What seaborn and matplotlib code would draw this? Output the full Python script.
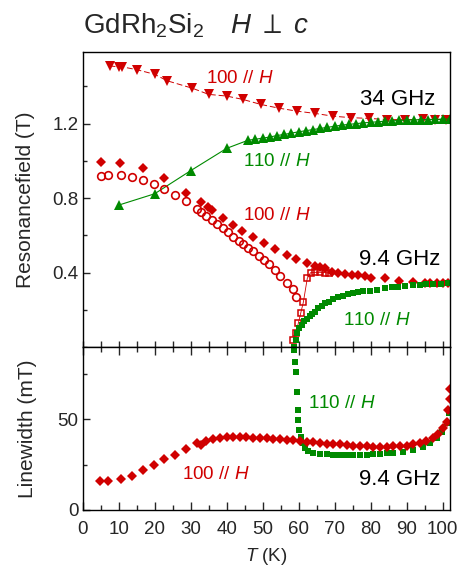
import matplotlib
matplotlib.use("Agg")
import matplotlib.pyplot as plt
import seaborn as sns
from matplotlib.ticker import MultipleLocator

# ---------------- data ----------------
# 34 GHz, 100 // H (down triangles, dashed)
t34_100 = [7.5, 10, 11, 15, 20, 23.5, 30.5, 35, 40, 44.5, 49.5, 54.5, 59.5, 64.5,
           69.5, 74.5, 79.5, 84.5, 89.5, 94.5, 98, 101]
b34_100 = [1.51, 1.505, 1.505, 1.49, 1.465, 1.43, 1.39, 1.357, 1.348, 1.33, 1.303,
           1.283, 1.267, 1.255, 1.24, 1.232, 1.228, 1.222, 1.221, 1.223, 1.222, 1.222]

# 34 GHz, 110 // H (up triangles, solid)
t34_110 = [10, 20, 30, 40, 46, 48, 50, 52, 54, 56, 58, 60, 62, 64, 66, 68, 70, 72,
           74, 76, 78, 80, 82, 84, 86, 88, 90, 92, 94, 96, 98, 100, 102]
b34_110 = [0.762, 0.823, 0.947, 1.067, 1.111, 1.116, 1.122, 1.128, 1.136, 1.142,
           1.149, 1.156, 1.162, 1.168, 1.174, 1.180, 1.186, 1.192, 1.196, 1.200,
           1.204, 1.207, 1.210, 1.213, 1.215, 1.217, 1.219, 1.220, 1.221, 1.222,
           1.223, 1.224, 1.225]

# 9.4 GHz, 100 // H, filled diamonds
t94_d = [5, 10.5, 16.8, 22.7, 28.7, 33, 34.9, 35.8, 38.9, 41.8, 44.4, 47.2, 50.5,
         53.5, 56.7, 59.4, 62.4, 64.5, 66, 67.3, 69.2, 71, 72.9, 74.7, 76.5, 78.3,
         80.1, 84, 88, 91.8, 95, 96.5, 98.3, 100, 101.6]
b94_d = [0.992, 0.990, 0.959, 0.906, 0.829, 0.777, 0.750, 0.736, 0.691, 0.655,
         0.623, 0.592, 0.560, 0.526, 0.496, 0.473, 0.450, 0.435, 0.430, 0.424,
         0.404, 0.399, 0.392, 0.387, 0.385, 0.379, 0.369, 0.369, 0.356, 0.351,
         0.345, 0.345, 0.345, 0.343, 0.342]

# 9.4 GHz, 100 // H, open circles
t94_o = [5.1, 7.1, 10.6, 13.6, 16.7, 19.7, 22.7, 25.7, 28.7, 31.7, 33, 34.4, 35.8,
         37.2, 38.9, 40.3, 41.8, 43.5, 44.6, 46, 47.4, 49, 50.4, 51.8, 53.4, 54.8,
         56.7, 58.3, 59.4]
b94_o = [0.920, 0.923, 0.923, 0.914, 0.897, 0.877, 0.848, 0.816, 0.784, 0.741,
         0.725, 0.703, 0.682, 0.660, 0.637, 0.616, 0.592, 0.569, 0.555, 0.530,
         0.515, 0.489, 0.467, 0.444, 0.413, 0.383, 0.342, 0.310, 0.270]

# 9.4 GHz, 100 // H, open squares (thin line)
t94_s = [58.5, 59.3, 59.9, 60.6, 61.3, 62.4, 63.3, 64.5, 65.9, 67.3, 68.5]
b94_s = [0.038, 0.077, 0.127, 0.184, 0.240, 0.369, 0.399, 0.401, 0.401, 0.400, 0.396]

# 9.4 GHz, 110 // H, filled squares
t94_g = [58.8, 59.3, 59.6, 60.2, 60.8, 61.5, 62.2, 63.1, 63.6, 64.5, 65.4, 66.4,
         67.3, 68.5, 69.6, 71, 72.4, 73.8, 75.2, 76.6, 77.9, 79.8, 81.8, 84, 85.8,
         87.7, 89.5, 91.8, 93.7, 95.5, 97.4, 99.4, 101.6]
b94_g = [0.002, 0.038, 0.075, 0.100, 0.120, 0.138, 0.152, 0.168, 0.175, 0.190,
         0.208, 0.220, 0.235, 0.243, 0.256, 0.267, 0.274, 0.283, 0.288, 0.294,
         0.299, 0.302, 0.306, 0.315, 0.320, 0.324, 0.329, 0.333, 0.334, 0.337,
         0.338, 0.340, 0.342]

# linewidth, 9.4 GHz, 100 // H
t_lw_100 = [4.8, 7.1, 10.6, 13.6, 16.7, 19.7, 22.7, 25.7, 28.7, 31.7, 33, 34.4, 36.3,
            38.1, 40, 41.8, 43.7, 45.5, 47.4, 49.2, 51.1, 52.9, 54.8, 56.7, 58.5,
            60.4, 62.2, 64.1, 65.9, 67.8, 69.6, 71.5, 73.3, 75.2, 77, 78.9, 80.7,
            82.6, 84.4, 86.3, 88.1, 90, 91.8, 93.7, 95.5, 97.4, 98.8, 100.2, 101.1,
            101.6, 101.9, 102.1]
lw_100 = [16.2, 16.2, 17.1, 18.7, 22.0, 24.6, 27.9, 30.5, 33.8, 37.1, 35.8, 38.0,
          39.3, 39.9, 40.2, 40.4, 40.4, 40.2, 40.0, 39.9, 39.5, 39.3, 39.1, 38.9,
          38.8, 38.2, 37.8, 37.4, 37.1, 36.7, 36.7, 36.4, 36.0, 35.6, 35.3, 35.1,
          34.9, 34.9, 34.9, 35.1, 35.3, 35.6, 36.2, 37.1, 38.0, 39.9, 41.9, 45.0,
          48.7, 55.1, 61.5, 67.0]

# linewidth, 9.4 GHz, 110 // H
t_lw_110 = [58.8, 59.1, 59.3, 59.6, 59.8, 59.9, 60.2, 60.6, 61.1, 61.8, 62.7, 64.1,
            65.9, 67.8, 69.6, 71, 72.4, 73.8, 75.2, 77, 78.9, 80.7, 82.6, 84.4, 86.3,
            89, 91.8, 94.6, 96.5, 98.3, 99.7, 101.1, 101.8]
lw_110 = [88.2, 81.8, 76.2, 65.2, 55.1, 49.6, 44.1, 40.4, 36.8, 34.0, 32.7, 31.6,
          31.0, 30.7, 30.5, 30.4, 30.3, 30.3, 30.3, 30.3, 30.5, 30.7, 30.9, 31.2,
          31.6, 32.2, 33.1, 34.6, 36.8, 39.5, 43.2, 47.8, 53.3]

RED = "#d00000"
GREEN = "#008a00"

# ---------------- style ----------------
sns.set_theme(style="ticks")
plt.rcParams["font.family"] = ["Liberation Sans", "DejaVu Sans"]
plt.rcParams["mathtext.fontset"] = "custom"
plt.rcParams["mathtext.rm"] = "Liberation Sans"
plt.rcParams["mathtext.it"] = "Liberation Sans:italic"
plt.rcParams["mathtext.fallback"] = "stixsans"

fig = plt.figure(figsize=(4.64, 5.69), dpi=100)
ax1 = fig.add_axes([0.178, 0.3902, 0.7916, 0.5185])
ax2 = fig.add_axes([0.178, 0.1037, 0.7916, 0.2865])


def pts(ax, x, y, marker, ms, color, face=None, ls="", lw=0.8, mew=0.0):
    sns.lineplot(x=x, y=y, ax=ax, sort=False, estimator=None, legend=False,
                 color=color, linestyle=ls, linewidth=lw, marker=marker,
                 markersize=ms, markerfacecolor=face if face else color,
                 markeredgecolor=color, markeredgewidth=mew, clip_on=True)


# ---------------- top panel: resonance field ----------------
pts(ax1, t34_100, b34_100, "v", 7, RED, ls=(0, (6, 3)), lw=0.7)
pts(ax1, t34_110, b34_110, "^", 7, GREEN, ls="-", lw=0.8)
pts(ax1, t94_s, b94_s, "s", 5, RED, face="none", ls="-", lw=0.6, mew=1.1)
pts(ax1, t94_o, b94_o, "o", 5.5, RED, face="none", mew=1.2)
pts(ax1, t94_d, b94_d, "D", 5.5, RED)
pts(ax1, t94_g, b94_g, "s", 4.5, GREEN)

ax1.set_xlim(0, 102)
ax1.set_ylim(0, 1.585)
ax1.set_yticks([0.4, 0.8, 1.2])
ax1.yaxis.set_minor_locator(MultipleLocator(0.2))
ax1.xaxis.set_major_locator(MultipleLocator(10))
ax1.xaxis.set_minor_locator(MultipleLocator(5))
ax1.tick_params(axis="x", which="both", direction="in", length=4, width=1,
                bottom=True, top=False, labelbottom=False)
ax1.tick_params(axis="y", which="major", direction="in", length=5, width=1,
                labelsize=13.5, pad=3, right=False)
ax1.tick_params(axis="y", which="minor", direction="in", length=3, width=1, right=False)
ax1.set_xlabel("")
ax1.set_ylabel("")

fs_lab = 13.5
ax1.text(34.4, 1.416, r"100 $\mathit{//\ H}$", color=RED, fontsize=fs_lab, va="baseline")
ax1.text(97.9, 1.299, "34 GHz", color="black", fontsize=16, ha="right", va="baseline")
ax1.text(44.6, 0.972, r"110 $\mathit{//\ H}$", color=GREEN, fontsize=fs_lab, va="baseline")
ax1.text(44.6, 0.682, r"100 $\mathit{//\ H}$", color=RED, fontsize=fs_lab, va="baseline")
ax1.text(99.4, 0.440, "9.4 GHz", color="black", fontsize=16, ha="right", va="baseline")
ax1.text(72.4, 0.118, r"110 $\mathit{//\ H}$", color=GREEN, fontsize=fs_lab, va="baseline")

# ---------------- bottom panel: linewidth ----------------
pts(ax2, t_lw_110, lw_110, "s", 4.5, GREEN)
pts(ax2, t_lw_100, lw_100, "D", 5.5, RED)

ax2.set_xlim(0, 102)
ax2.set_ylim(0, 90)
ax2.set_yticks([0, 50])
ax2.yaxis.set_minor_locator(MultipleLocator(25))
ax2.xaxis.set_major_locator(MultipleLocator(10))
ax2.xaxis.set_minor_locator(MultipleLocator(5))
ax2.tick_params(axis="x", which="major", direction="in", length=5.5, width=1,
                labelsize=13.5, pad=8, top=True)
ax2.tick_params(axis="x", which="minor", direction="in", length=3.5, width=1, top=True)
ax2.tick_params(axis="y", which="major", direction="in", length=5, width=1,
                labelsize=13.5, pad=3, right=False)
ax2.tick_params(axis="y", which="minor", direction="in", length=3, width=1, right=False)
ax2.set_xlabel("")
ax2.set_ylabel("")

ax2.text(62.7, 56.1, r"110 $\mathit{//\ H}$", color=GREEN, fontsize=fs_lab, va="baseline")
ax2.text(27.5, 17.1, r"100 $\mathit{//\ H}$", color=RED, fontsize=fs_lab, va="baseline")
ax2.text(99.4, 13.8, "9.4 GHz", color="black", fontsize=16, ha="right", va="baseline")

for ax in (ax1, ax2):
    for sp in ax.spines.values():
        sp.set_visible(True)
        sp.set_linewidth(1.0)
        sp.set_color("black")

# ---------------- figure texts ----------------
fig.text(83 / 464, 1 - 33 / 569, r"GdRh$_2$Si$_2$", fontsize=20,
         va="baseline", ha="left")
fig.text(230 / 464, 1 - 33 / 569, r"$H\ \perp\ c$", fontsize=20,
         va="baseline", ha="left")
fig.text(26 / 464, 1 - 200 / 569, "Resonancefield (T)", rotation=90, fontsize=15,
         ha="center", va="center")
fig.text(28 / 464, 1 - 428.5 / 569, "Linewidth (mT)", rotation=90, fontsize=15,
         ha="center", va="center")
fig.text(266 / 464, 1 - 561 / 569, r"$T$ (K)", fontsize=13.5, ha="center", va="baseline")

fig.savefig("out.png", dpi=100)
